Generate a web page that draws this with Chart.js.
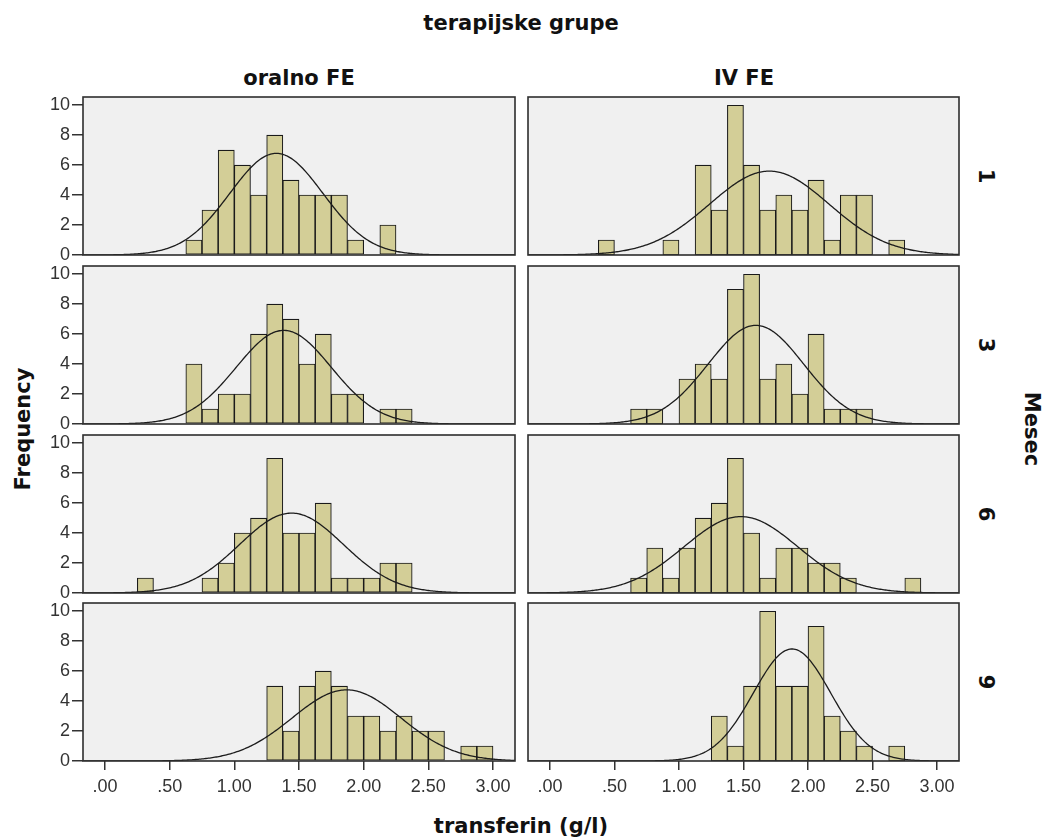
<!DOCTYPE html>
<html>
<head>
<meta charset="utf-8">
<script src="https://cdn.jsdelivr.net/npm/chart.js@4.4.1/dist/chart.umd.min.js"></script>
<style>
  html, body { margin: 0; padding: 0; background: #fff; }
  #wrap { position: relative; width: 1045px; height: 839px; overflow: hidden; background: #fff; }
  #wrap canvas { position: absolute; }
  .t { position: absolute; font-family: "DejaVu Sans", sans-serif; font-weight: bold; font-size: 21px;
       color: #111; white-space: nowrap; transform: translate(-50%, -50%); line-height: 1; }
  .rl { transform: translate(-50%, -50%) rotate(-90deg); }
  .rr { transform: translate(-50%, -50%) rotate(90deg); }
</style>
</head>
<body>
<div id="wrap">
  <div class="t" style="left:521px;top:23px">terapijske grupe</div>
  <div class="t" id="g0" style="left:299px;top:78px"></div>
  <div class="t" id="g1" style="left:744px;top:78px"></div>
  <div class="t rl" style="left:23px;top:429px">Frequency</div>
  <div class="t rr" style="left:1031px;top:429px">Mesec</div>
  <div class="t" style="left:521px;top:826px">transferin (g/l)</div>
</div>
<script>
// Facets
const groups = ['oralno FE', 'IV FE'];
const months = ['1', '3', '6', '9'];

// Histogram bins (left edges, width 0.125 g/l)
const binWidth = 0.125;
const binLeftEdges = [0.25, 0.375, 0.5, 0.625, 0.75, 0.875, 1.0, 1.125, 1.25, 1.375, 1.5,
                      1.625, 1.75, 1.875, 2.0, 2.125, 2.25, 2.375, 2.5, 2.625, 2.75, 2.875];

// Frequencies per bin
const oralnoM1 = [0,0,0,1,3,7,6,4,8,5,4,4,4,1,0,2,0,0,0,0,0,0];
const oralnoM3 = [0,0,0,4,1,2,2,6,8,7,4,6,2,2,0,1,1,0,0,0,0,0];
const oralnoM6 = [1,0,0,0,1,2,4,5,9,4,4,6,1,1,1,2,2,0,0,0,0,0];
const oralnoM9 = [0,0,0,0,0,0,0,0,5,2,5,6,5,3,3,2,3,2,2,0,1,1];
const ivM1     = [0,1,0,0,0,1,0,6,3,10,6,3,4,3,5,1,4,4,0,1,0,0];
const ivM3     = [0,0,0,1,1,0,3,4,3,9,10,3,4,2,6,1,1,1,0,0,0,0];
const ivM6     = [0,0,0,1,3,1,3,5,6,9,4,1,3,3,2,2,1,0,0,0,1,0];
const ivM9     = [0,0,0,0,0,0,0,0,3,1,5,10,5,5,9,3,2,1,0,1,0,0];

// Fitted normal curves (mean, standard deviation)
const oralnoMean = [1.325, 1.382, 1.442, 1.868];
const oralnoSd   = [0.360, 0.367, 0.402, 0.420];
const ivMean     = [1.700, 1.596, 1.480, 1.876];
const ivSd       = [0.463, 0.371, 0.440, 0.300];

// Axis ticks
const xTickValues = [0, 0.5, 1, 1.5, 2, 2.5, 3];
const xTickLabels = ['.00', '.50', '1.00', '1.50', '2.00', '2.50', '3.00'];
const yTickValues = [0, 2, 4, 6, 8, 10];

const countsByGroup = [[oralnoM1, oralnoM3, oralnoM6, oralnoM9], [ivM1, ivM3, ivM6, ivM9]];
const meanByGroup = [oralnoMean, ivMean];
const sdByGroup = [oralnoSd, ivSd];

// Panel layout
const X_MIN = -0.17, X_MAX = 3.17, Y_MAX = 10.55;
const rowTops = [97, 266, 435, 603];
const panelH = 158;
const colCanvas = [{ left: 0, width: 520, padL: 0, padR: 5 }, { left: 520, width: 445, padL: 8, padR: 6 }];
const PAD_V = 14, X_AXIS_H = 46, Y_AXIS_W = 83;

const tickFont = { family: '"Liberation Sans", Arial, sans-serif', size: 18 };
const tickColor = '#333';

const wrap = document.getElementById('wrap');
document.getElementById('g0').textContent = groups[0];
document.getElementById('g1').textContent = groups[1];
months.forEach((m, r) => {
  const d = document.createElement('div');
  d.className = 't rr';
  d.style.left = '985px';
  d.style.top = (rowTops[r] + panelH / 2) + 'px';
  d.textContent = m;
  wrap.appendChild(d);
});

const panelFrame = {
  id: 'panelFrame',
  beforeDraw(chart) {
    const { ctx, chartArea: a } = chart;
    ctx.save();
    ctx.fillStyle = '#f0f0f0';
    ctx.fillRect(a.left, a.top, a.right - a.left, a.bottom - a.top);
    ctx.restore();
  },
  afterDatasetsDraw(chart) {
    const { ctx, chartArea: a } = chart;
    ctx.save();
    ctx.strokeStyle = '#2e2e2e';
    ctx.lineWidth = 1.6;
    ctx.strokeRect(a.left, a.top, a.right - a.left, a.bottom - a.top);
    ctx.restore();
  }
};

function normalCurve(mean, sd, n) {
  const pts = [];
  const scale = n * binWidth / (sd * Math.sqrt(2 * Math.PI));
  for (let i = 0; i <= 334; i++) {
    const x = X_MIN + i * 0.01;
    const z = (x - mean) / sd;
    pts.push({ x: x, y: scale * Math.exp(-0.5 * z * z) });
  }
  return pts;
}

for (let c = 0; c < 2; c++) {
  for (let r = 0; r < 4; r++) {
    const isBottom = r === 3;
    const isLeft = c === 0;
    const cv = document.createElement('canvas');
    const h = PAD_V + panelH + (isBottom ? X_AXIS_H : PAD_V);
    cv.width = colCanvas[c].width;
    cv.height = h;
    cv.style.left = colCanvas[c].left + 'px';
    cv.style.top = (rowTops[r] - PAD_V) + 'px';
    cv.style.width = colCanvas[c].width + 'px';
    cv.style.height = h + 'px';
    wrap.appendChild(cv);

    const counts = countsByGroup[c][r];
    const n = counts.reduce((s, v) => s + v, 0);
    const bars = binLeftEdges.map((e, i) => ({ x: e + binWidth / 2, y: counts[i] > 0 ? counts[i] : null }));

    new Chart(cv, {
      type: 'bar',
      data: {
        datasets: [
          {
            type: 'line',
            data: normalCurve(meanByGroup[c][r], sdByGroup[c][r], n),
            borderColor: '#1c1c1c',
            borderWidth: 1.3,
            pointRadius: 0,
            fill: false,
            tension: 0,
            order: 0
          },
          {
            type: 'bar',
            data: bars,
            backgroundColor: '#d3ce97',
            borderColor: '#1a1a1a',
            borderWidth: 1.1,
            borderSkipped: false,
            barPercentage: 1,
            categoryPercentage: 1,
            order: 1
          }
        ]
      },
      options: {
        responsive: false,
        animation: false,
        devicePixelRatio: 1,
        events: [],
        layout: { padding: { top: PAD_V, bottom: isBottom ? 0 : PAD_V, left: colCanvas[c].padL, right: colCanvas[c].padR } },
        plugins: { legend: { display: false }, tooltip: { enabled: false } },
        scales: {
          x: {
            type: 'linear',
            min: X_MIN,
            max: X_MAX,
            offset: false,
            display: isBottom,
            border: { display: false },
            grid: { offset: false, drawOnChartArea: false, drawTicks: true, tickLength: 9, color: tickColor, lineWidth: 1.5 },
            ticks: {
              font: tickFont, color: tickColor, padding: 6, maxRotation: 0, autoSkip: false,
              callback: (v, i) => xTickLabels[i]
            },
            afterBuildTicks: s => { s.ticks = xTickValues.map(v => ({ value: v })); },
            afterFit: s => { s.height = isBottom ? X_AXIS_H : 0; }
          },
          y: {
            type: 'linear',
            min: 0,
            max: Y_MAX,
            position: 'left',
            display: isLeft,
            border: { display: false },
            grid: { drawOnChartArea: false, drawTicks: true, tickLength: 11, color: tickColor, lineWidth: 1.5 },
            ticks: { font: tickFont, color: tickColor, padding: 2, autoSkip: false },
            afterBuildTicks: s => { s.ticks = yTickValues.map(v => ({ value: v })); },
            afterFit: s => { s.width = isLeft ? Y_AXIS_W : 0; }
          }
        }
      },
      plugins: [panelFrame]
    });
  }
}
</script>
</body>
</html>
